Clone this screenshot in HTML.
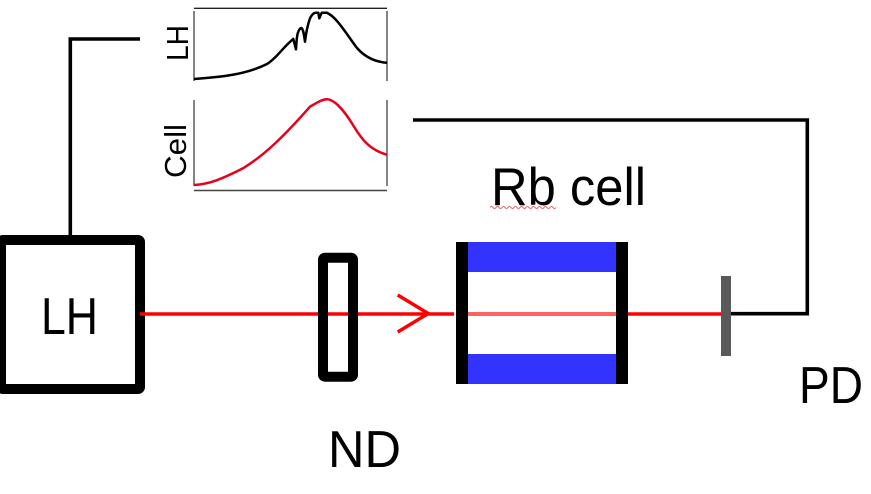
<!DOCTYPE html>
<html>
<head>
<meta charset="utf-8">
<style>
html,body{margin:0;padding:0;background:#fff;width:871px;height:494px;overflow:hidden}
svg{display:block}
text{font-family:"Liberation Sans",sans-serif}
</style>
</head>
<body>
<svg width="871" height="494" viewBox="0 0 871 494" xmlns="http://www.w3.org/2000/svg">
<!-- LH plot -->
<path d="M194 8.3H387" stroke="#222" stroke-width="1.3" fill="none"/>
<path d="M194 11V81M387 11V81" stroke="#333" stroke-width="1.2" fill="none"/>
<path d="M194 79 C220 77 245 75 267 64 C277 58 283 47 293.300 39 L296 49.300 C296.500 40 297 34 298.300 31.700 C299.500 28.500 301 27.500 301.700 28.300 C303.500 30 304 35 305 41.700 C306 33 308 24 310 18.300 C312 14 314 12.700 316 12.700 L318.300 12.700 L319.300 18.300 L321.700 12.700 L326.700 12.700 C337 17 347 35 357 48 C365 57 375 62 387 62.700" stroke="#000" stroke-width="2.500" fill="none" stroke-linejoin="round"/>
<!-- Cell plot -->
<path d="M194 100V186M387 100V186" stroke="#333" stroke-width="1.2" fill="none"/>
<path d="M194 190.500H387" stroke="#444" stroke-width="1.600" fill="none"/>
<path d="M194 185 C210 184 222 179 243 168.300 C265 155 285 135 310 106.700 C318 102 322 99.500 327 99.300 C335 99.500 345 112 353 125 C362 140 370 150 387 154.700" stroke="#e8001c" stroke-width="2.500" fill="none" stroke-linejoin="round"/>
<text transform="translate(188,61) rotate(-90)" font-size="31" textLength="36" lengthAdjust="spacingAndGlyphs" fill="#000">LH</text>
<text transform="translate(186,178) rotate(-90)" font-size="31" textLength="54" lengthAdjust="spacingAndGlyphs" fill="#000">Cell</text>
<!-- black wiring -->
<path d="M70.300 236V39H140" stroke="#000" stroke-width="3.600" fill="none"/>
<path d="M413 120H807.300V313.700H731" stroke="#000" stroke-width="3.600" fill="none"/>
<!-- LH box -->
<rect x="1" y="240" width="139" height="149" rx="2" fill="none" stroke="#000" stroke-width="10"/>
<!-- ND filter -->
<rect x="323" y="257.700" width="30" height="119" rx="2" fill="#fff" stroke="#000" stroke-width="10"/>
<!-- red beam -->
<path d="M140 314H318" stroke="#f00" stroke-width="3.600" fill="none"/>
<path d="M328 314H348" stroke="#f00" stroke-width="3.600" fill="none"/>
<path d="M358 314H454" stroke="#f00" stroke-width="3.600" fill="none"/>
<path d="M628 314H722" stroke="#f00" stroke-width="3.600" fill="none"/>
<path d="M397.700 295L428.300 313.500L397.700 332" stroke="#f00" stroke-width="3.400" fill="none"/>
<!-- Rb cell -->
<rect x="467" y="242" width="150" height="30" fill="#3333ff"/>
<rect x="467" y="354" width="150" height="30" fill="#3333ff"/>
<rect x="467" y="312" width="150" height="4" fill="#ff6060"/>
<rect x="456" y="242" width="12" height="142" fill="#000"/>
<rect x="616" y="242" width="12" height="142" fill="#000"/>
<!-- PD -->
<rect x="721" y="276" width="10" height="80" fill="#595959"/>
<!-- labels -->
<text x="491" y="205" font-size="53" textLength="155" lengthAdjust="spacingAndGlyphs" fill="#000">Rb cell</text>
<path d="M490 207.500q1.500 -2 3 0t3 0t3 0t3 0t3 0t3 0t3 0t3 0t3 0t3 0t3 0t3 0t3 0t3 0t3 0t3 0t3 0t3 0t3 0t3 0t3 0t3 0" stroke="#e04040" stroke-width="0.800" fill="none"/>
<text x="41" y="334" font-size="52" textLength="57" lengthAdjust="spacingAndGlyphs" fill="#000">LH</text>
<text x="799" y="403" font-size="52" textLength="64" lengthAdjust="spacingAndGlyphs" fill="#000">PD</text>
<text x="328" y="467" font-size="52" textLength="73" lengthAdjust="spacingAndGlyphs" fill="#000">ND</text>
</svg>
</body>
</html>
